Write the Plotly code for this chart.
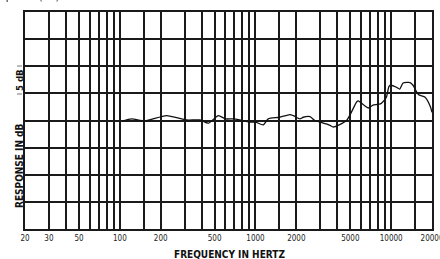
import plotly.graph_objects as go
import math

# Frequency response data (Hz, dB)
freq_hz = [105, 122, 153, 221, 310, 390, 449, 532, 600, 700, 910, 1000, 1141, 1242,
           1500, 1795, 1900, 2127, 2248, 2520, 2743, 3000, 3540, 3740, 4690, 5560,
           5720, 6770, 7300, 8420, 9220, 9640, 10000, 10980, 11560, 12250, 13800,
           14500, 15870, 17800, 19500, 20000]
response_db = [-0.1, 0.3, -0.1, 0.9, 0.1, 0.1, -0.5, 0.9, 0.3, 0.3, -0.3, -0.3, -0.8, 0.3,
               0.6, 1.1, 0.9, 0.3, 0.6, 0.7, 0.0, -0.3, -0.9, -1.2, 0.0, 3.4,
               3.6, 2.3, 2.8, 3.1, 4.3, 6.3, 6.5, 6.1, 5.8, 6.9, 7.0,
               6.5, 4.8, 4.3, 2.5, 1.5]

grid_freqs = [20, 30, 40, 50, 60, 70, 80, 90, 100, 150, 200, 300, 400, 500, 600, 700,
              800, 900, 1000, 1500, 2000, 3000, 4000, 5000, 6000, 7000, 8000, 9000,
              10000, 15000, 20000]
labeled_freqs = [20, 30, 50, 100, 200, 500, 1000, 2000, 5000, 10000, 20000]
tick_text = [str(f) if f in labeled_freqs else "" for f in grid_freqs]

W, H = 440, 259
ml, mr, mt, mb = 25, 8, 12, 30
pw, ph = W - ml - mr, H - mt - mb

def px_x(px):
    return (px - ml) / pw

def px_y(py):
    return 1 - (py - mt) / ph

font_fam = "DejaVu Sans Condensed, DejaVu Sans, sans-serif"

fig = go.Figure()
fig.add_trace(go.Scatter(x=freq_hz, y=response_db, mode="lines",
                         line=dict(color="#111111", width=1.3, shape="spline", smoothing=0.6),
                         hoverinfo="skip", showlegend=False))

fig.update_layout(
    width=W, height=H,
    margin=dict(l=ml, r=mr, t=mt, b=mb, autoexpand=False),
    paper_bgcolor="white", plot_bgcolor="white",
    xaxis=dict(type="log", range=[math.log10(20), math.log10(20000)],
               tickvals=grid_freqs, ticktext=tick_text, ticks="",
               showgrid=True, gridcolor="#1a1a1a", gridwidth=2,
               showline=True, linecolor="#1a1a1a", linewidth=2, mirror=True,
               tickfont=dict(family=font_fam, size=8, color="#222"),
               zeroline=False, automargin=False, ticklabeloverflow="allow"),
    yaxis=dict(range=[-20, 20], dtick=5, tick0=0, showticklabels=False, ticks="",
               showgrid=True, gridcolor="#1a1a1a", gridwidth=2,
               showline=True, linecolor="#1a1a1a", linewidth=2, mirror=True,
               zeroline=False, automargin=False),
    font=dict(family=font_fam),
)

anns = [
    dict(text="<b>FREQUENCY IN HERTZ</b>", x=px_x(229), y=px_y(254), xref="paper", yref="paper",
         xanchor="center", yanchor="middle", showarrow=False,
         font=dict(family=font_fam, size=10, color="#111")),
    dict(text="<b>RESPONSE IN dB</b>", x=px_x(19), y=px_y(166), xref="paper", yref="paper",
         xanchor="center", yanchor="middle", showarrow=False, textangle=-90,
         font=dict(family=font_fam, size=10, color="#111")),
    dict(text="<b>5 dB</b>", x=px_x(19), y=px_y(80), xref="paper", yref="paper",
         xanchor="center", yanchor="middle", showarrow=False, textangle=-90,
         font=dict(family=font_fam, size=9.5, color="#111")),
    dict(text="Response (dB)", x=px_x(62), y=px_y(5), xref="paper", yref="paper",
         xanchor="right", yanchor="bottom", showarrow=False,
         font=dict(family=font_fam, size=11, color="#111")),
]
fig.update_layout(annotations=anns)

shapes = []
for py in (66, 94):
    shapes.append(dict(type="line", xref="paper", yref="paper",
                       x0=px_x(17), x1=px_x(22), y0=px_y(py), y1=px_y(py),
                       line=dict(color="#777", width=1)))
fig.update_layout(shapes=shapes)

fig.write_html("out.html", config={"displayModeBar": False},
               post_script="document.body.style.margin='0';document.body.style.overflow='hidden';")
